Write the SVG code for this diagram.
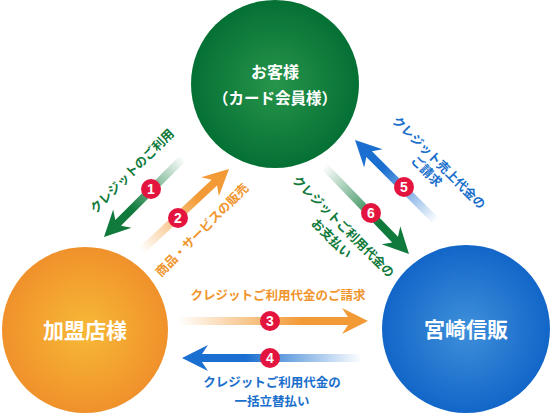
<svg xmlns="http://www.w3.org/2000/svg" width="550" height="414" viewBox="0 0 550 414">
<style>
text{font-family:"Noto Sans CJK JP","Noto Sans CJK SC",sans-serif;font-weight:bold;text-anchor:middle}
.lbl{font-size:12.5px}
.node{fill:#fff}
.gt{fill:#0f7a3b}.ot{fill:#f0952c}.bt{fill:#1a6fcc}
.badge circle{fill:#e3153f}
.badge text{fill:#fff;font-size:14px;font-family:"Liberation Sans",Arial,sans-serif}
</style>
<defs>
<radialGradient id="cg" cx="0.5" cy="0.5" r="0.5"><stop offset="0" stop-color="#27954b"/><stop offset="1" stop-color="#057034"/></radialGradient>
<radialGradient id="co" cx="0.5" cy="0.5" r="0.5"><stop offset="0" stop-color="#f7b937"/><stop offset="1" stop-color="#f0912b"/></radialGradient>
<radialGradient id="cb" cx="0.5" cy="0.5" r="0.5"><stop offset="0" stop-color="#3f90da"/><stop offset="1" stop-color="#1266c8"/></radialGradient>
<linearGradient id="ag" x1="0" y1="0" x2="0.65" y2="0"><stop offset="0" stop-color="#0f7a3b" stop-opacity="0"/><stop offset="1" stop-color="#0f7a3b"/></linearGradient>
<linearGradient id="ao" x1="0" y1="0" x2="0.65" y2="0"><stop offset="0" stop-color="#f29a35" stop-opacity="0"/><stop offset="1" stop-color="#f29a35"/></linearGradient>
<linearGradient id="ab" x1="0" y1="0" x2="0.65" y2="0"><stop offset="0" stop-color="#1a6fd0" stop-opacity="0"/><stop offset="1" stop-color="#1a6fd0"/></linearGradient>
</defs>

<g id="customer">
<circle cx="275" cy="84" r="84" fill="url(#cg)"/>
<text class="node" x="275" y="77.5" font-size="16">お客様</text>
<text class="node" x="275" y="103.5" font-size="15.5">（カード会員様）</text>
</g>
<g id="merchant">
<circle cx="85" cy="330" r="83" fill="url(#co)"/>
<text class="node" x="85" y="337.5" font-size="21">加盟店様</text>
</g>
<g id="shinpan">
<circle cx="466" cy="329" r="84" fill="url(#cb)"/>
<text class="node" x="466" y="337" font-size="21">宮崎信販</text>
</g>

<g id="connectors">
<path transform="translate(104,237) rotate(135)" fill="url(#ag)" d="M-112,-4 L-20,-4 L-26,-13 L0,0 L-26,13 L-20,4 L-112,4 Z"/>
<path transform="translate(229,169) rotate(-43)" fill="url(#ao)" d="M-120,-4 L-20,-4 L-26,-13 L0,0 L-26,13 L-20,4 L-120,4 Z"/>
<path transform="translate(368,321)" fill="url(#ao)" d="M-190,-4 L-20,-4 L-26,-13 L0,0 L-26,13 L-20,4 L-190,4 Z"/>
<path transform="translate(182,358) rotate(180)" fill="url(#ab)" d="M-180,-4 L-20,-4 L-26,-13 L0,0 L-26,13 L-20,4 L-180,4 Z"/>
<path transform="translate(355,140) rotate(-135)" fill="url(#ab)" d="M-115,-4 L-20,-4 L-26,-13 L0,0 L-26,13 L-20,4 L-115,4 Z"/>
<path transform="translate(409,254) rotate(46)" fill="url(#ag)" d="M-122,-4 L-20,-4 L-26,-13 L0,0 L-26,13 L-20,4 L-122,4 Z"/>

<g class="badge"><circle cx="151" cy="189" r="10"/><text x="151" y="194">1</text></g>
<g class="badge"><circle cx="178" cy="218" r="10"/><text x="178" y="223">2</text></g>
<g class="badge"><circle cx="270" cy="321" r="10"/><text x="270" y="326">3</text></g>
<g class="badge"><circle cx="270" cy="358" r="10"/><text x="270" y="363">4</text></g>
<g class="badge"><circle cx="404" cy="187" r="10"/><text x="404" y="192">5</text></g>
<g class="badge"><circle cx="371" cy="213" r="10"/><text x="371" y="218">6</text></g>

<text class="lbl gt" transform="translate(132,171) rotate(-45)" y="4.5">クレジットのご利用</text>
<text class="lbl ot" transform="translate(202,230) rotate(-45)" y="4.5">商品・サービスの販売</text>
<text class="lbl ot" x="278" y="299.5">クレジットご利用代金のご請求</text>
<text class="lbl bt" x="272" y="387">クレジットご利用代金の</text>
<text class="lbl bt" x="272" y="405.5">一括立替払い</text>
<g transform="translate(439,162.5) rotate(45)">
<text class="lbl bt" y="4.5">クレジット売上代金の</text>
<text class="lbl bt" x="-2.5" y="19.5">ご請求</text>
</g>
<g transform="translate(343.5,226.5) rotate(45)">
<text class="lbl gt" y="4.5">クレジットご利用代金の</text>
<text class="lbl gt" y="21.5">お支払い</text>
</g>
</g>
</svg>
